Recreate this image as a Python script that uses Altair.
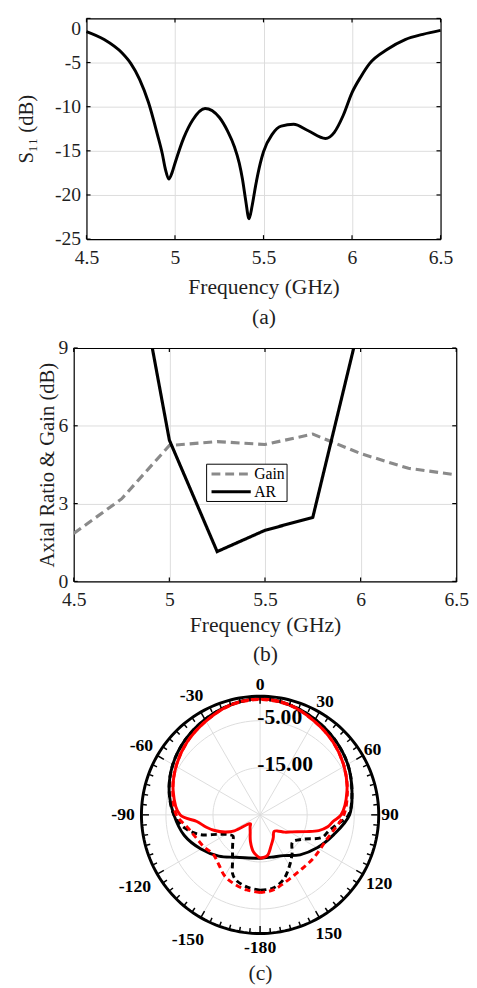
import altair as alt
import pandas as pd

FONT = "Liberation Serif"
INK = "#1f1f1f"
GRID = "#dcdcdc"

# ---------------- (a) S11 ----------------
S11_FREQ = [4.5, 4.6, 4.7, 4.75, 4.8, 4.85, 4.9, 4.928, 4.946, 4.965, 4.983, 5.0, 5.05, 5.1, 5.17,
            5.25, 5.298, 5.335, 5.363, 5.381, 5.4, 5.418, 5.436, 5.455, 5.482, 5.5, 5.55, 5.6, 5.67,
            5.75, 5.85, 5.9, 5.95, 6.0, 6.05, 6.1, 6.2, 6.3, 6.4, 6.5]
S11_DB = [-1.5, -2.4, -3.9, -5.1, -6.9, -9.5, -13.1, -15.3, -17.1, -18.2, -17.5, -16.4, -13.5, -11.5, -10.2,
          -11.2, -12.8, -14.5, -16.4, -18.2, -20.7, -22.7, -21.2, -19.0, -16.4, -15.1, -13.1, -12.2, -12.0,
          -12.7, -13.6, -12.9, -11.0, -8.4, -6.6, -5.1, -3.5, -2.4, -1.8, -1.35]
FREQ_TICKS = [4.5, 5.0, 5.5, 6.0, 6.5]
S11_TICKS = [0, -5, -10, -15, -20, -25]

# ---------------- (b) AR & Gain ----------------
GAIN_FREQ = [4.5, 4.75, 5.0, 5.25, 5.5, 5.75, 6.0, 6.25, 6.5]
GAIN_DB = [1.85, 3.18, 5.24, 5.39, 5.28, 5.68, 4.93, 4.36, 4.11]
AR_FREQ = [4.75, 5.0, 5.25, 5.5, 5.75, 6.0]
AR_DB = [15.4, 5.45, 1.15, 1.97, 2.47, 10.1]
ARG_TICKS = [0, 3, 6, 9]
SERIES = ["Gain", "AR"]

# ---------------- (c) radiation pattern ----------------
BS_ANG = [-180, -165, -150, -135, -120, -105, -90, -75, -60, -45, -30, -15, 0, 15, 30, 45, 60, 75, 90,
          105, 120, 135, 150, 165, 180]
BS_DB = [-15.8, -15.5, -14.6, -12.6, -10.5, -8.3, -6.7, -5.0, -3.6, -2.5, -1.6, -0.8, -0.3, -0.8, -1.6,
         -2.5, -3.5, -4.8, -6.0, -8.8, -11.0, -13.0, -15.0, -15.7, -15.8]
BD_ANG = [-180, -170, -160, -155, -150, -145, -140, -135, -128, -122, -115, -108, -100, -90, -75, -60,
          -45, -30, -15, 0, 15, 30, 45, 60, 75, 90, 97, 103, 110, 120, 130, 140, 150, 160, 170, 180]
BD_DB = [-9.0, -9.4, -10.2, -11.2, -13.3, -14.8, -15.9, -16.8, -17.7, -17.1, -15.2, -11.5, -8.8, -6.7,
         -5.0, -3.6, -2.5, -1.6, -0.8, -0.3, -0.8, -1.6, -2.5, -3.5, -4.8, -6.2, -8.5, -10.0, -11.0,
         -14.6, -16.0, -14.4, -12.5, -10.4, -9.2, -9.0]
RS_ANG = [-180, -170, -160, -150, -140, -133, -128, -122, -116, -109, -103, -96, -90, -75, -60, -45, -30,
          -15, 0, 15, 30, 45, 60, 75, 90, 95, 100, 105, 110, 118, 125, 133, 140, 150, 160, 170, 180]
RS_DB = [-15.8, -17.0, -19.0, -20.8, -21.7, -22.2, -21.8, -18.6, -16.7, -14.8, -13.3, -11.5, -8.0, -5.9,
         -4.4, -3.1, -2.0, -0.8, -0.4, -0.8, -2.0, -3.1, -4.4, -5.9, -7.8, -9.4, -10.4, -12.1, -14.6,
         -17.3, -18.6, -20.0, -20.4, -19.4, -18.1, -16.2, -15.8]
RD_ANG = [-180, -170, -160, -150, -140, -130, -120, -110, -100, -90, -75, -60, -45, -30, -15, 0, 15, 30,
          45, 60, 75, 90, 100, 110, 120, 130, 140, 150, 160, 170, 180]
RD_DB = [-8.5, -8.8, -9.3, -10.0, -11.3, -12.0, -11.3, -10.6, -9.4, -7.2, -5.8, -4.4, -3.1, -2.0, -0.9,
         -0.5, -0.9, -2.0, -3.1, -4.4, -5.8, -7.2, -8.8, -9.9, -10.3, -10.4, -10.5, -10.3, -9.7, -8.8, -8.5]
RING_DB = [-15, -5]
RING_LABELS = ["-5.00", "-15.00"]
RING_LABEL_DB = [-5, -15]
SPOKE_ANG = [0, 30, 60, 90, 120, 150, 180, 210, 240, 270, 300, 330]
ANGLE_LABELS = ["0", "30", "60", "90", "120", "150", "-180", "-150", "-120", "-90", "-60", "-30"]
ANGLE_LABEL_POS = [0, 30, 60, 90, 120, 150, 180, -150, -120, -90, -60, -30]
FLOOR_DB = -25  # centre of the polar plot
FRAME_DB = 0

# ---------------- common styles ----------------
AX = dict(labelFont=FONT, labelFontSize=20, labelColor=INK, titleFont=FONT, titleFontSize=22,
          titleFontWeight="normal", titleColor=INK, ticks=False, domainColor="black", domainWidth=1.2,
          grid=True, gridColor=GRID, gridWidth=1, labelFlush=False, labelExpr="datum.value + ''")
FRAME_AX = dict(labels=False, ticks=False, grid=False, title=None, domainColor="black", domainWidth=1.2)
W = 390


def top_label_baseline(top_value):
    # the highest y label hangs from the frame so it does not push the plot down
    return {"condition": {"test": f"datum.value == {top_value}", "value": "top"}, "value": "middle"}


def frame(xs, ys, xdom, ydom, xticks, yticks, dx, dy, right_off):
    tx = pd.DataFrame({"t": xticks})
    ty = pd.DataFrame({"t": yticks})
    rs = dict(color="black", strokeWidth=1.2)
    bottom = alt.Chart(tx).mark_rule(**rs).encode(
        x=alt.X("t:Q", scale=xs, axis=None),
        y=alt.YDatum(ydom[0], scale=ys, axis=None), y2=alt.Y2Datum(ydom[0] + dy))
    top = alt.Chart(tx).mark_rule(**rs).encode(
        x=alt.X("t:Q", scale=xs, axis=alt.Axis(orient="top", **FRAME_AX)),
        y=alt.YDatum(ydom[1], scale=ys, axis=None), y2=alt.Y2Datum(ydom[1] - dy))
    left = alt.Chart(ty).mark_rule(**rs).encode(
        y=alt.Y("t:Q", scale=ys, axis=None),
        x=alt.XDatum(xdom[0], scale=xs, axis=None), x2=alt.X2Datum(xdom[0] + dx))
    right = alt.Chart(ty).mark_rule(**rs).encode(
        y=alt.Y("t:Q", scale=ys, axis=alt.Axis(orient="right", offset=right_off, **FRAME_AX)),
        x=alt.XDatum(xdom[1], scale=xs, axis=None), x2=alt.X2Datum(xdom[1] - dx))
    return [bottom, top, left, right]


# ---------------- panel (a) ----------------
HA = 225
xa = alt.Scale(domain=[4.5, 6.5], range=[13, 374], nice=False, zero=False)
ya = alt.Scale(domain=[-25, 0], nice=False, zero=False)
df_a = pd.DataFrame({"f": S11_FREQ, "s": S11_DB})
line_a = alt.Chart(df_a).mark_line(color="black", strokeWidth=3, interpolate="monotone").encode(
    x=alt.X("f:Q", scale=xa, axis=alt.Axis(values=FREQ_TICKS, title=["Frequency (GHz)", "(a)"],
                                           titleLineHeight=31, titlePadding=9, labelPadding=9, **AX)),
    y=alt.Y("s:Q", scale=ya, axis=alt.Axis(values=S11_TICKS, title="S\u2081\u2081 (dB)", offset=-13,
                                           titlePadding=18, labelPadding=6,
                                           labelBaseline=top_label_baseline(0),
                                           **{**AX, "titleFontSize": 21})))
panel_a = alt.layer(line_a, *frame(xa, ya, [4.5, 6.5], [-25, 0], FREQ_TICKS, S11_TICKS,
                                   0.023, 0.45, -16)).resolve_axis(
    x="independent", y="independent").properties(width=W, height=HA)

# ---------------- panel (b) ----------------
HB = 238
xb = alt.Scale(domain=[4.5, 6.5], nice=False, zero=False)
yb = alt.Scale(domain=[0, 9], nice=False, zero=False)
df_b = pd.concat([
    pd.DataFrame({"f": GAIN_FREQ, "v": GAIN_DB, "series": SERIES[0]}),
    pd.DataFrame({"f": AR_FREQ, "v": AR_DB, "series": SERIES[1]}),
])
leg = alt.Legend(orient="none", legendX=135, legendY=118, title=None, symbolType="M-2.5,0L2.5,0",
                 symbolSize=256, symbolStrokeWidth=3, symbolOffset=15, labelOffset=14,
                 labelFont=FONT, labelFontSize=16, labelColor="black", strokeColor="black",
                 fillColor="white", padding=1, rowPadding=0)
line_b = alt.Chart(df_b).mark_line(strokeWidth=3.2, clip=True).encode(
    x=alt.X("f:Q", scale=xb, axis=alt.Axis(values=FREQ_TICKS, title=["Frequency (GHz)", "(b)"],
                                           titleLineHeight=30, titlePadding=5, labelPadding=9, **AX)),
    y=alt.Y("v:Q", scale=yb, axis=alt.Axis(values=ARG_TICKS, title="Axial Ratio & Gain (dB)",
                                           titlePadding=1, labelPadding=6,
                                           **{**AX, "titleFontSize": 21})),
    color=alt.Color("series:N", scale=alt.Scale(domain=SERIES, range=["#8a8a8a", "#000000"]), legend=leg),
    strokeDash=alt.StrokeDash("series:N", scale=alt.Scale(domain=SERIES, range=[[9, 5], [1, 0]]), legend=leg),
    detail="series:N",
)
panel_b = alt.layer(line_b, *frame(xb, yb, [4.5, 6.5], [0, 9], FREQ_TICKS, ARG_TICKS,
                                   0.021, 0.155, 0)).resolve_axis(
    x="independent", y="independent").properties(width=W, height=HB)

# ---------------- panel (c) ----------------
WC, HC = 380, 292
PPU = 4.8          # pixels per dB
CX, CY = 190, 142  # centre of the polar plot inside the panel
xc = alt.Scale(domain=[-CX / PPU, (WC - CX) / PPU], nice=False, zero=False)
yc = alt.Scale(domain=[-(HC - CY) / PPU, CY / PPU], nice=False, zero=False)
R = f"(max(datum.v, {FLOOR_DB}) - ({FLOOR_DB}))"
calc = dict(px=f"{R} * sin(datum.a * PI / 180)", py=f"{R} * cos(datum.a * PI / 180)")
NOAX = dict(axis=None)


def pos():
    return dict(x=alt.X("px:Q", scale=xc, **NOAX), y=alt.Y("py:Q", scale=yc, **NOAX))


ring_rows = []
for lv in RING_DB:
    for k, a in enumerate(range(0, 361, 3)):
        ring_rows.append({"ring": lv, "a": a, "v": lv, "i": k})
rings = alt.Chart(pd.DataFrame(ring_rows)).transform_calculate(**calc).mark_line(
    color=GRID, strokeWidth=1).encode(detail="ring:N", order="i:Q", **pos())

spk = pd.DataFrame({"a": SPOKE_ANG, "v": FRAME_DB})
spokes = alt.Chart(spk).transform_calculate(
    **calc, ox="0", oy="0").mark_rule(color=GRID, strokeWidth=1).encode(
    x=alt.X("ox:Q", scale=xc, axis=alt.Axis(title="(c)", labels=False, ticks=False, domain=False, grid=False,
                                            titleFont=FONT, titleFontSize=22, titleFontWeight="normal",
                                            titleColor=INK, titlePadding=1)),
    y=alt.Y("oy:Q", scale=yc, **NOAX), x2="px:Q", y2="py:Q")

frame_c = pd.DataFrame({"a": list(range(0, 361, 2)), "v": FRAME_DB})
frame_c["i"] = range(len(frame_c))
outer = alt.Chart(frame_c).transform_calculate(
    px=f"({FRAME_DB} - ({FLOOR_DB}) + 0.2) * sin(datum.a * PI / 180)",
    py=f"({FRAME_DB} - ({FLOOR_DB}) + 0.2) * cos(datum.a * PI / 180)").mark_line(
    color="black", strokeWidth=3).encode(order="i:Q", **pos())

tk = pd.DataFrame({"a": list(range(0, 360, 5))})
ticks_c = alt.Chart(tk).transform_calculate(
    r0=f"{FRAME_DB - FLOOR_DB}",
    r1=f"{FRAME_DB - FLOOR_DB} - (datum.a % 30 == 0 ? 1.4 : 0.85)",
    px="datum.r0 * sin(datum.a * PI / 180)", py="datum.r0 * cos(datum.a * PI / 180)",
    qx="datum.r1 * sin(datum.a * PI / 180)", qy="datum.r1 * cos(datum.a * PI / 180)",
).mark_rule(color="black", strokeWidth=1.5).encode(x2="qx:Q", y2="qy:Q", **pos())


def curve(ang, db, color, dash=None):
    df = pd.DataFrame({"a": ang, "v": db})
    df["i"] = range(len(df))
    kw = dict(color=color, strokeWidth=3, interpolate="catmull-rom")
    if dash:
        kw["strokeDash"] = dash
    return alt.Chart(df).transform_calculate(**calc).mark_line(**kw).encode(order="i:Q", **pos())


c_bd = curve(BD_ANG, BD_DB, "black", [6, 4])
c_bs = curve(BS_ANG, BS_DB, "black")
c_rd = curve(RD_ANG, RD_DB, "#ff0000", [6, 4])
c_rs = curve(RS_ANG, RS_DB, "#ff0000")

alab = pd.DataFrame({"a": ANGLE_LABEL_POS, "lab": ANGLE_LABELS})
angle_text = alt.Chart(alab).transform_calculate(
    rr=(f"{FRAME_DB - FLOOR_DB} + 2.6 + (datum.a < 0 ? 1.5 : 0)"
        " + (abs(datum.a) > 100 && abs(datum.a) < 170 ? 1.6 : 0) + (datum.a == 180 ? 0.7 : 0)"),
    px="datum.rr * sin(datum.a * PI / 180)", py="datum.rr * cos(datum.a * PI / 180)",
).mark_text(font=FONT, fontSize=18, fontWeight="bold", color="black").encode(text="lab:N", **pos())

rlab = pd.DataFrame({"v": RING_LABEL_DB, "lab": RING_LABELS})
ring_text = alt.Chart(rlab).transform_calculate(
    px="-0.6", py=f"datum.v - ({FLOOR_DB}) + 0.7",
).mark_text(font=FONT, fontSize=22, fontWeight="bold", color="black", align="left",
            baseline="middle").encode(text="lab:N", **pos())

panel_c = alt.layer(spokes, rings, ring_text, c_bd, c_bs, c_rd, c_rs, outer, ticks_c, angle_text).resolve_axis(
    x="independent", y="independent").properties(width=WC, height=HC)

chart = alt.vconcat(panel_a, panel_b, panel_c, spacing=11).resolve_scale(
    color="independent", strokeDash="independent"
).properties(
    padding={"left": 8, "top": 0, "right": 0, "bottom": 0}
).configure(font=FONT).configure_view(strokeWidth=0)

chart.save("out.html", embed_options={"renderer": "svg", "actions": False})
